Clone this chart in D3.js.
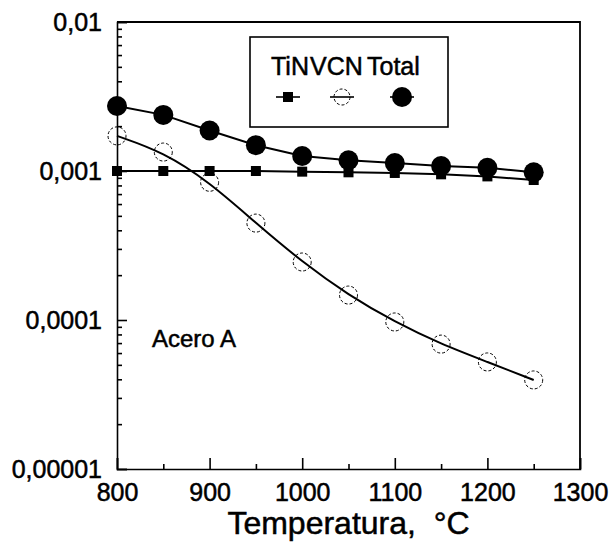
<!DOCTYPE html>
<html>
<head>
<meta charset="utf-8">
<script src="https://cdn.jsdelivr.net/npm/d3@7"></script>
<style>
  body { margin: 0; background: #fff; }
  svg { display: block; font-family: 'Liberation Sans', Arial, sans-serif; }
  svg text { stroke: #000; stroke-width: 0.5px; }
  .axis path, .axis line { stroke: #000; stroke-width: 1.6px; }
  .axis text { font-size: 25px; fill: #000; }
</style>
</head>
<body>
<div id="chart"></div>
<script>
const temps = [800, 850, 900, 950, 1000, 1050, 1100, 1150, 1200, 1250]
const tin = [0.001, 0.001, 0.001, 0.001, 0.00099, 0.00098, 0.00097, 0.00095, 0.00092, 0.00087]
const vcn = [0.00172, 0.00134, 0.00084, 0.000447, 0.000245, 0.000147, 0.000097, 0.0000689, 0.0000523, 0.0000396]
const total = [0.00273, 0.00238, 0.00187, 0.00149, 0.00126, 0.00118, 0.00113, 0.00108, 0.00105, 0.00098]

const xTicks = [800, 900, 1000, 1100, 1200, 1300]
const xMinor = [850, 950, 1050, 1150, 1250]
const yTicks = [0.01, 0.001, 0.0001, 0.00001]
const yTickLabels = ['0,01', '0,001', '0,0001', '0,00001']
const legendNames = ['TiN', 'VCN', 'Total']

const width = 611, height = 545
const margin = {top: 22, right: 31, bottom: 76, left: 117}
const w = width - margin.left - margin.right
const h = height - margin.top - margin.bottom

const x = d3.scaleLinear().domain([800, 1300]).range([0, w])
const y = d3.scaleLog().domain([0.00001, 0.01]).range([h, 0])

const svg = d3.select('#chart').append('svg')
  .attr('width', width).attr('height', height)
const frame = svg.append('g').attr('transform', `translate(${margin.left},${margin.top})`)

// minor y ticks: 2..9 in every decade
const yMinor = []
yTicks.slice(1).forEach(d => { for (let k = 2; k <= 9; k++) yMinor.push(d * k) })

frame.append('g').attr('class', 'axis')
  .call(d3.axisLeft(y).tickValues(yMinor).tickSize(-5).tickFormat(''))
  .call(g => g.select('.domain').remove())
frame.append('g').attr('class', 'axis')
  .call(d3.axisLeft(y).tickValues(yTicks).tickSize(-10).tickPadding(15)
    .tickFormat((d, i) => yTickLabels[i]))

frame.append('g').attr('class', 'axis').attr('transform', `translate(0,${h})`)
  .call(d3.axisBottom(x).tickValues(xMinor).tickSize(-5).tickFormat(''))
  .call(g => g.select('.domain').remove())
frame.append('g').attr('class', 'axis').attr('transform', `translate(0,${h})`)
  .call(d3.axisBottom(x).tickValues(xTicks).tickSize(-11).tickPadding(14)
    .tickFormat(d3.format('d')))

// top and right border
frame.append('path')
  .attr('d', `M0,0H${w}V${h}`)
  .attr('fill', 'none').attr('stroke', '#000').attr('stroke-width', 1.8)

const lineStraight = d3.line().x((d, i) => x(temps[i])).y(d => y(d))
const lineSmooth = d3.line().x((d, i) => x(temps[i])).y(d => y(d)).curve(d3.curveBasis)

frame.append('path').datum(tin).attr('d', lineStraight)
  .attr('fill', 'none').attr('stroke', '#000').attr('stroke-width', 2)
frame.append('path').datum(total).attr('d', lineStraight)
  .attr('fill', 'none').attr('stroke', '#000').attr('stroke-width', 2)
frame.append('path').datum(vcn).attr('d', lineSmooth)
  .attr('fill', 'none').attr('stroke', '#000').attr('stroke-width', 2)

frame.selectAll('.sq').data(tin).join('rect')
  .attr('x', (d, i) => x(temps[i]) - 5).attr('y', d => y(d) - 5)
  .attr('width', 10).attr('height', 10).attr('fill', '#000')
frame.selectAll('.op').data(vcn).join('circle')
  .attr('cx', (d, i) => x(temps[i])).attr('cy', d => y(d)).attr('r', 9)
  .attr('fill', 'none').attr('stroke', '#000').attr('stroke-width', 1)
  .attr('stroke-dasharray', '3,2')
frame.selectAll('.fc').data(total).join('circle')
  .attr('cx', (d, i) => x(temps[i])).attr('cy', d => y(d)).attr('r', 10)
  .attr('fill', '#000')

frame.append('text').attr('x', 35).attr('y', 325)
  .attr('font-size', 24).text('Acero A')

// legend
const legend = svg.append('g').attr('transform', 'translate(250,37)')
legend.append('rect').attr('width', 198).attr('height', 90)
  .attr('fill', '#fff').attr('stroke', '#000').attr('stroke-width', 1.6)
const legX = [21, 60, 117]
const symX = [38, 92, 152]
legend.selectAll('.lt').data(legendNames).join('text')
  .attr('x', (d, i) => legX[i]).attr('y', 38)
  .attr('font-size', 25).text(d => d)
legend.selectAll('.ll').data(symX).join('line')
  .attr('x1', d => d - 12).attr('x2', d => d + 12).attr('y1', 60).attr('y2', 60)
  .attr('stroke', '#000').attr('stroke-width', 1.6)
legend.append('rect').attr('x', symX[0] - 5).attr('y', 55).attr('width', 10).attr('height', 10)
legend.append('circle').attr('cx', symX[1]).attr('cy', 60).attr('r', 8)
  .attr('fill', 'none').attr('stroke', '#000').attr('stroke-dasharray', '3,2')
legend.append('circle').attr('cx', symX[2]).attr('cy', 60).attr('r', 10)

svg.append('text').attr('x', margin.left + w / 2).attr('y', 534)
  .attr('text-anchor', 'middle').attr('font-size', 32)
  .style('white-space', 'pre').text('Temperatura,  °C')
</script>
</body>
</html>
